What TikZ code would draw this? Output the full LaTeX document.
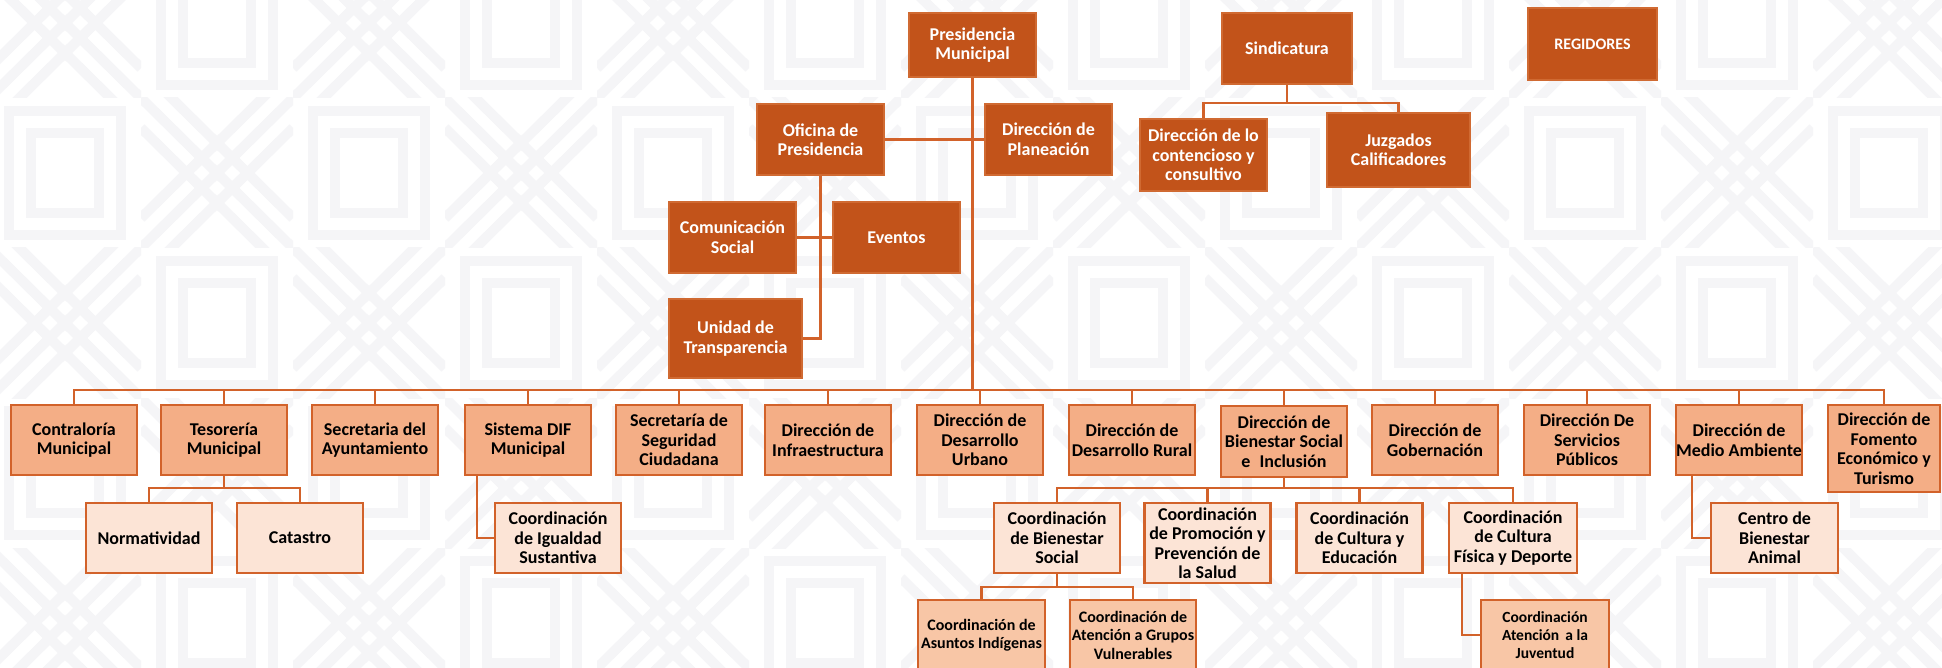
\documentclass[tikz,border=0pt]{standalone}
\usepackage{fontspec}
\setmainfont{Carlito}
\definecolor{cDark}{HTML}{C2531A}
\definecolor{cDarkB}{HTML}{D06A32}
\definecolor{cMid}{HTML}{F4AE86}
\definecolor{cMid2}{HTML}{F8C6A6}
\definecolor{cLight}{HTML}{FCE4D6}
\definecolor{cLine}{HTML}{D2622A}
\definecolor{cPat}{HTML}{F5F5F7}
\begin{document}
\begin{tikzpicture}[x=1pt,y=-1pt,
  box/.style={rectangle, draw, line width=2.2pt, align=center, inner sep=0pt,
    font=\bfseries\fontsize{18}{19.5}\selectfont, minimum width=126pt, minimum height=70pt},
  dark/.style={box, fill=cDark, draw=cDarkB, text=white},
  lvA/.style={box, fill=cMid, draw=cLine, text=black},
  lvB/.style={box, fill=cLight, draw=cLine, text=black},
  lvC/.style={box, fill=cMid2, draw=cLine, text=black, font=\bfseries\fontsize{16}{18.5}\selectfont},
  conn/.style={draw=cLine, line width=2.6pt},
  pat/.style={draw=cPat, line width=10pt}
]
\useasboundingbox (0,0) rectangle (1942,668);
\fill[white] (0,0) rectangle (1942,668);

% faint background pattern
\begin{scope}
\clip (0,0) rectangle (1942,668);
\foreach \c in {0,...,13}{
  \foreach \r in {0,...,4}{
    \pgfmathsetmacro{\cx}{65+152*\c}
    \pgfmathsetmacro{\cy}{23+150*\r}
    \pgfmathtruncatemacro{\odd}{mod(\c+\r,2)}
    \ifnum\odd=1
      \draw[pat] (\cx-56,\cy-62) rectangle (\cx+56,\cy+62);
      \draw[pat] (\cx-34,\cy-40) rectangle (\cx+34,\cy+40);
    \else
      \begin{scope}
        \clip (\cx-76,\cy-75) rectangle (\cx+76,\cy+75);
        \foreach \d in {-30,0,30}{
          \draw[pat] (\cx-76,\cy-75+\d) -- (\cx+76,\cy+75+\d);
          \draw[pat] (\cx-76,\cy+75+\d) -- (\cx+76,\cy-75+\d);
        }
      \end{scope}
    \fi
  }
}
\end{scope}

% top level
\node[dark, minimum width=127pt, minimum height=64pt] (pres) at (972.5,45) {Presidencia\\Municipal};
\node[dark, minimum width=127pt, minimum height=71pt] (ofi) at (820.5,139.5) {Oficina de\\Presidencia};
\node[dark, minimum width=127pt, minimum height=71pt] (plan) at (1048.5,139.5) {Dirección de\\Planeación};
\node[dark, minimum width=127pt, minimum height=71pt] (com) at (732.5,237.5) {Comunicación\\Social};
\node[dark, minimum width=127pt, minimum height=71pt] (eve) at (896.5,237.5) {Eventos};
\node[dark, minimum width=133pt, minimum height=79pt] (uni) at (735.5,338.5) {Unidad de\\Transparencia};
\node[dark, minimum width=130pt, minimum height=71pt] (sind) at (1287,48.5) {Sindicatura};
\node[dark, minimum width=127pt, minimum height=72pt] (cont) at (1203.5,155) {Dirección de lo\\contencioso y\\consultivo};
\node[dark, minimum width=143pt, minimum height=74pt] (juz) at (1398.5,150) {Juzgados\\Calificadores};
\node[dark, minimum width=129pt, minimum height=72pt, font=\bfseries\fontsize{16}{18}\selectfont] (reg) at (1592.5,44) {REGIDORES};

% row 1
\node[lvA] (contra) at (74,440) {Contraloría\\Municipal};
\node[lvA] (tes) at (224,440) {Tesorería\\Municipal};
\node[lvA] (secay) at (375,440) {Secretaria del\\Ayuntamiento};
\node[lvA] (dif) at (528,440) {Sistema DIF\\Municipal};
\node[lvA] (seg) at (679,440) {Secretaría de\\Seguridad\\Ciudadana};
\node[lvA] (infra) at (828,440) {Dirección de\\Infraestructura};
\node[lvA] (urb) at (980,440) {Dirección de\\Desarrollo\\Urbano};
\node[lvA] (rur) at (1132,440) {Dirección de\\Desarrollo Rural};
\node[lvA, minimum height=71pt] (bien) at (1284,441.5) {Dirección de\\Bienestar Social\\e\; Inclusión};
\node[lvA] (gob) at (1435,440) {Dirección de\\Gobernación};
\node[lvA] (serv) at (1587,440) {Dirección De\\Servicios\\Públicos};
\node[lvA] (med) at (1739,440) {Dirección de\\Medio Ambiente};
\node[lvA, minimum width=112pt, minimum height=87pt] (fom) at (1884,448.5) {Dirección de\\Fomento\\Económico y\\Turismo};

% row 2
\node[lvB] (norm) at (149,538) {Normatividad};
\node[lvB] (cat) at (300,538) {Catastro};
\node[lvB] (ig) at (558,538) {Coordinación\\de Igualdad\\Sustantiva};
\node[lvB] (cbs) at (1057,538) {Coordinación\\de Bienestar\\Social};
\node[lvB, minimum height=80pt] (prom) at (1207.5,543) {Coordinación\\de Promoción y\\Prevención de\\la Salud};
\node[lvB] (cult) at (1359.5,538) {Coordinación\\de Cultura y\\Educación};
\node[lvB, minimum width=128pt] (dep) at (1513,538) {Coordinación\\de Cultura\\Física y Deporte};
\node[lvB, minimum width=127pt] (cba) at (1774.5,538) {Centro de\\Bienestar\\Animal};

% row 3
\node[lvC, minimum width=127pt] (asu) at (981.5,635) {Coordinación de\\Asuntos Indígenas};
\node[lvC] (vul) at (1133,635) {Coordinación de\\Atención a Grupos\\Vulnerables};
\node[lvC, minimum width=128pt, font=\bfseries\fontsize{15.5}{18}\selectfont] (juv) at (1545,635) {Coordinación\\Atención\, a la\\Juventud};

% connectors
\coordinate (busY) at (0,390);
\coordinate (sY) at (0,103);
\coordinate (tY) at (0,488);
\coordinate (cY) at (0,587);

\draw[conn] (pres.south) -- (pres.south |- busY);
\draw[conn] (ofi.east) -- (plan.west);
\draw[conn] (com.east) -- (eve.west);
\draw[conn] (ofi.south) |- (uni.east);

\draw[conn] (sind.south) -- (sind.south |- sY);
\draw[conn] (sind.south |- sY) -| (cont.north);
\draw[conn] (sind.south |- sY) -| (juz.north);

\draw[conn] (contra.north) |- (busY -| fom.north) -- (fom.north);
\foreach \n in {tes,secay,dif,seg,infra,urb,rur,bien,gob,serv,med}
  \draw[conn] (\n.north) -- (\n.north |- busY);

\draw[conn] (tes.south) -- (tes.south |- tY);
\draw[conn] (norm.north) |- (tY -| cat.north) -- (cat.north);

\draw[conn] ([xshift=13pt]dif.south west) |- (ig.west);

\draw[conn] (bien.south) -- (bien.south |- tY);
\draw[conn] (cbs.north) |- (tY -| dep.north) -- (dep.north);
\draw[conn] (prom.north) -- (prom.north |- tY);
\draw[conn] (cult.north) -- (cult.north |- tY);

\draw[conn] (cbs.south) -- (cbs.south |- cY);
\draw[conn] (asu.north) |- (cY -| vul.north) -- (vul.north);

\draw[conn] ([xshift=14pt]dep.south west) |- (juv.west);
\draw[conn] ([xshift=17pt]med.south west) |- (cba.west);
\end{tikzpicture}
\end{document}
